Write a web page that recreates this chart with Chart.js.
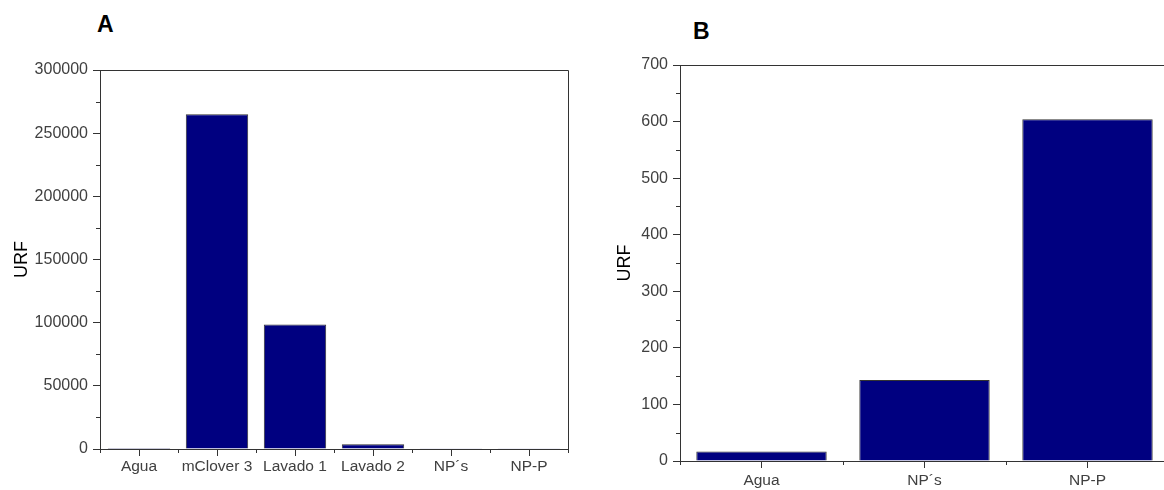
<!DOCTYPE html>
<html lang="es">
<head>
  <meta charset="UTF-8" />
  <title>URF</title>
  <script src="https://cdn.jsdelivr.net/npm/chart.js"></script>
  <style>
    body {
      margin: 0;
      width: 1164px;
      height: 490px;
      overflow: hidden;
      background: #fff;
      position: relative;
      font-family: "Liberation Sans", Arial, sans-serif;
    }
    .panel { position: absolute; top: 0; }
    .tag {
      position: absolute;
      font-family: "Liberation Sans", Arial, sans-serif;
      font-weight: 700;
      font-size: 23px;
      color: #000;
    }
  </style>
</head>
<body>
  <div class="tag" style="left:97px; top:11px;">A</div>
  <div class="tag" style="left:693px; top:18px;">B</div>
  <canvas id="chartA" class="panel" style="left:0" width="600" height="490"></canvas>
  <canvas id="chartB" class="panel" style="left:600px" width="600" height="490"></canvas>

  <script>
    // data
    const catsA = ['Agua', 'mClover 3', 'Lavado 1', 'Lavado 2', 'NP´s', 'NP-P'];
    const valsA = [17, 265000, 98500, 3800, 143, 604];
    const catsB = ['Agua', 'NP´s', 'NP-P'];
    const valsB = [17, 143, 604];

    const ink = '#333333';
    const txt = '#404040';

    // box around plot + minor ticks
    const frame = {
      id: 'frame',
      afterDraw(chart) {
        const { ctx, chartArea: a, scales: { x, y } } = chart;
        const px = v => Math.round(v) + 0.5;
        ctx.save();
        ctx.strokeStyle = ink;
        ctx.lineWidth = 1;
        ctx.beginPath();
        ctx.moveTo(px(a.left), px(a.top));
        ctx.lineTo(px(a.right), px(a.top));
        ctx.lineTo(px(a.right), px(a.bottom));
        // minor y ticks
        const t = y.ticks;
        for (let i = 0; i < t.length - 1; i++) {
          const yy = px(y.getPixelForValue((t[i].value + t[i + 1].value) / 2));
          ctx.moveTo(a.left - 4, yy);
          ctx.lineTo(a.left, yy);
        }
        // category boundary ticks
        const n = chart.data.labels.length;
        for (let i = 0; i <= n; i++) {
          const xx = px(a.left + (a.right - a.left) * i / n);
          ctx.moveTo(xx, a.bottom);
          ctx.lineTo(xx, a.bottom + 4);
        }
        ctx.stroke();
        ctx.restore();
      }
    };

    function makeChart(id, labels, values, opt) {
      return new Chart(document.getElementById(id), {
        type: 'bar',
        data: {
          labels: labels,
          datasets: [{
            data: values,
            backgroundColor: '#000080',
            borderColor: ink,
            borderWidth: 1,
            barPercentage: 0.8,
            categoryPercentage: 1
          }]
        },
        options: {
          responsive: false,
          animation: false,
          layout: { padding: { top: opt.top, right: opt.right, left: 0, bottom: 0 } },
          plugins: { legend: { display: false }, tooltip: { enabled: false } },
          scales: {
            x: {
              afterFit: s => { s.height = opt.xh; },
              grid: { drawOnChartArea: false, offset: false, tickLength: 7, color: ink },
              border: { color: ink },
              ticks: {
                color: txt,
                font: { family: 'Liberation Sans', size: 15.5 },
                padding: opt.xpad,
                maxRotation: 0,
                minRotation: 0,
                autoSkip: false
              }
            },
            y: {
              min: 0,
              max: opt.max,
              afterFit: s => { s.width = opt.yw; },
              grid: { drawOnChartArea: false, tickLength: 7, color: ink },
              border: { color: ink },
              ticks: {
                stepSize: opt.step,
                color: txt,
                font: { family: 'Liberation Sans', size: 16 },
                padding: 5,
                callback: v => String(v)
              },
              title: {
                display: true,
                text: 'URF',
                color: '#000',
                font: { family: 'Liberation Sans', size: 18 },
                padding: { top: opt.tpad, bottom: 0 }
              }
            }
          }
        },
        plugins: [frame]
      });
    }

    makeChart('chartA', catsA, valsA, { top: 70, right: 32, xh: 41, yw: 100, max: 300000, step: 50000, tpad: 11, xpad: 1 });
    makeChart('chartB', catsB, valsB, { top: 65, right: 31, xh: 29, yw: 80, max: 700, step: 100, tpad: 14, xpad: 3 });
  </script>
</body>
</html>
